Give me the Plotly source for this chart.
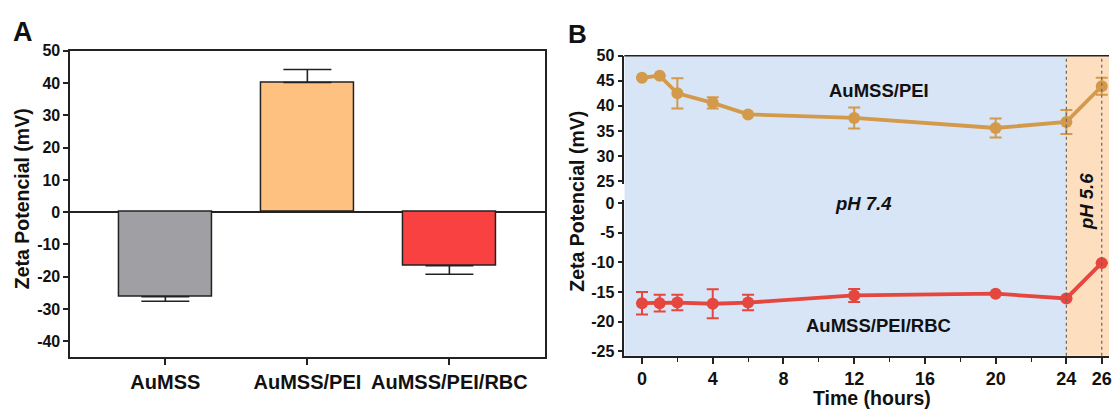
import plotly.graph_objects as go

# ---------------- Data ----------------
# Panel A
categories = ["AuMSS", "AuMSS/PEI", "AuMSS/PEI/RBC"]
zeta_means = [-26.2, 40.2, -16.6]
zeta_err_up = [0, 4.0, 0]
zeta_err_down = [1.4, 0, 2.6]
bar_colors = ["#A09FA4", "#FEC17F", "#F94141"]

# Panel B
time_h = [0, 1, 2, 4, 6, 12, 20, 24, 26]
pei_vals = [45.6, 46.0, 42.5, 40.6, 38.3, 37.6, 35.6, 36.8, 43.9]
pei_err = [0, 0, 3.0, 1.1, 0, 2.1, 1.9, 2.4, 1.7]
rbc_vals = [-16.9, -16.9, -16.8, -17.0, -16.8, -15.6, -15.3, -16.1, -10.1]
rbc_err = [1.9, 1.4, 1.3, 2.45, 1.3, 1.1, 0, 0, 0]

xB_major = [0, 4, 8, 12, 16, 20, 24, 26]
xB_minor = [2, 6, 10, 14, 18, 22]
yB_top_ticks = [25, 30, 35, 40, 45, 50]
yB_bot_ticks = [-25, -20, -15, -10, -5, 0]
yA_ticks = [-40, -30, -20, -10, 0, 10, 20, 30, 40, 50]

W, H = 1112, 414
FONT = "Liberation Sans, Arial, Helvetica, sans-serif"
AXC = "#222222"


def px_x(p):
    return p / W


def px_y(p):
    return 1 - p / H


def txt(vals):
    return [str(v) for v in vals]


fig = go.Figure()

# ---------------- Panel A ----------------
fig.add_trace(go.Bar(
    x=categories, y=zeta_means, width=0.655,
    marker=dict(color=bar_colors, line=dict(color=AXC, width=1.5)),
    error_y=dict(type="data", symmetric=False, array=zeta_err_up,
                 arrayminus=zeta_err_down, color=AXC, thickness=1.6, width=24),
    xaxis="x", yaxis="y", showlegend=False,
))

# ---------------- Panel B ----------------
gold = "#D39A4B"
red = "#E5463D"
fig.add_trace(go.Scatter(
    x=time_h, y=pei_vals, mode="lines+markers",
    line=dict(color=gold, width=3.8),
    marker=dict(color=gold, size=12),
    error_y=dict(type="data", array=pei_err, color=gold, thickness=2, width=6),
    xaxis="x2", yaxis="y2", showlegend=False,
))
fig.add_trace(go.Scatter(
    x=time_h, y=rbc_vals, mode="lines+markers",
    line=dict(color=red, width=3.8),
    marker=dict(color=red, size=12),
    error_y=dict(type="data", array=rbc_err, color=red, thickness=2, width=6),
    xaxis="x2", yaxis="y3", showlegend=False,
))

tickfont = dict(family=FONT, size=16, color="#111111", weight="bold")

B_left = 626
xB_range = [-1, -1 + (W - B_left) / 17.73]
yB_top_dom = [px_y(181.9), px_y(49.3)]
yB_bot_dom = [px_y(360), px_y(198.3)]

fig.update_layout(
    width=W, height=H,
    margin=dict(l=0, r=0, t=0, b=0),
    paper_bgcolor="white",
    plot_bgcolor="rgba(0,0,0,0)",
    font=dict(family=FONT, color="#111111"),
    bargap=0,
    xaxis=dict(
        domain=[px_x(70.4), px_x(546)], anchor="y",
        range=[-0.67, 2.67], type="category",
        showline=True, linecolor=AXC, linewidth=1.5, mirror=True,
        ticks="outside", ticklen=6, tickwidth=1.5, tickcolor=AXC,
        tickfont=dict(family=FONT, size=20, color="#111111", weight="bold"),
        showgrid=False, zeroline=False,
    ),
    yaxis=dict(
        domain=[px_y(361.7), px_y(44.3)], anchor="x",
        range=[-45, 50], tickvals=yA_ticks, ticktext=txt(yA_ticks),
        showline=True, linecolor=AXC, linewidth=1.5, mirror=True,
        ticks="outside", ticklen=5, tickwidth=1.5, tickcolor=AXC,
        tickfont=tickfont,
        showgrid=False, zeroline=True, zerolinecolor=AXC, zerolinewidth=1.5,
    ),
    xaxis2=dict(
        domain=[px_x(B_left), 1.0], anchor="y3",
        range=xB_range, tickvals=xB_major, ticktext=txt(xB_major),
        ticklabeloverflow="allow",
        showline=True, linecolor=AXC, linewidth=1.5,
        ticks="outside", ticklen=6, tickwidth=1.5, tickcolor=AXC,
        minor=dict(tickvals=xB_minor, ticks="outside",
                   ticklen=4, tickwidth=1.2, tickcolor=AXC, showgrid=False),
        tickfont=dict(family=FONT, size=18, color="#111111", weight="bold"),
        showgrid=False, zeroline=False,
    ),
    yaxis2=dict(
        domain=yB_top_dom, anchor="x2",
        range=[24.5, 50], tickvals=yB_top_ticks, ticktext=txt(yB_top_ticks),
        showline=True, linecolor=AXC, linewidth=1.5,
        ticks="outside", ticklen=5, tickwidth=1.5, tickcolor=AXC,
        tickfont=tickfont, showgrid=False, zeroline=False,
    ),
    yaxis3=dict(
        domain=yB_bot_dom, anchor="x2",
        range=[-25.8, 0.6], tickvals=yB_bot_ticks, ticktext=txt(yB_bot_ticks),
        showline=True, linecolor=AXC, linewidth=1.5,
        ticks="outside", ticklen=5, tickwidth=1.5, tickcolor=AXC,
        tickfont=tickfont, showgrid=False, zeroline=False,
    ),
)

# Background regions and dotted separators for panel B
shapes = [
    dict(type="rect", xref="x2", yref="paper", x0=xB_range[0], x1=24,
         y0=yB_bot_dom[0], y1=yB_top_dom[1], fillcolor="#D8E5F7",
         line=dict(width=0), layer="below"),
    dict(type="rect", xref="x2", yref="paper", x0=24, x1=xB_range[1],
         y0=yB_bot_dom[0], y1=yB_top_dom[1], fillcolor="#FDDFC0",
         line=dict(width=0), layer="below"),
    dict(type="line", xref="x2", yref="paper", x0=24, x1=24,
         y0=yB_bot_dom[0], y1=yB_top_dom[1],
         line=dict(color="#666666", width=1.2, dash="dot")),
    dict(type="line", xref="x2", yref="paper", x0=26, x1=26,
         y0=yB_bot_dom[0], y1=yB_top_dom[1],
         line=dict(color="#666666", width=1.2, dash="dot")),
    dict(type="line", xref="x2 domain", yref="paper", x0=0, x1=1,
         y0=yB_top_dom[1], y1=yB_top_dom[1],
         line=dict(color=AXC, width=1.5)),
]
fig.update_layout(shapes=shapes)


def label(text, x, y, size, xref="paper", yref="paper", angle=0):
    return dict(text=text, xref=xref, yref=yref, x=x, y=y, textangle=angle,
                xanchor="center", yanchor="middle", showarrow=False,
                font=dict(size=size, family=FONT, color="#111111"))


ann = [
    label("<b>A</b>", px_x(23), px_y(25), 27),
    label("<b>B</b>", px_x(579), px_y(27), 26),
    label("<b>Zeta Potencial (mV)</b>", px_x(22), px_y(197), 19.5, angle=-90),
    label("<b>Zeta Potencial (mV)</b>", px_x(579), px_y(200), 19.5, angle=-90),
    label("<b>Time (hours)</b>", px_x(874), px_y(404), 19.5),
    label("<b>AuMSS/PEI</b>", 13.4, 43.1, 18.5, xref="x2", yref="y2"),
    label("<b>AuMSS/PEI/RBC</b>", 13.4, -20.6, 18.5, xref="x2", yref="y3"),
    label("<b><i>pH 7.4</i></b>", 12.5, 0, 18.5, xref="x2", yref="y3"),
    label("<b><i>pH 5.6</i></b>", 25.1, px_y(200), 18.5, xref="x2", angle=-90),
]
fig.update_layout(annotations=ann)

fig.write_html(
    "out.html",
    config={"displayModeBar": False},
    post_script="document.body.style.margin='0';document.body.style.padding='0';",
)
